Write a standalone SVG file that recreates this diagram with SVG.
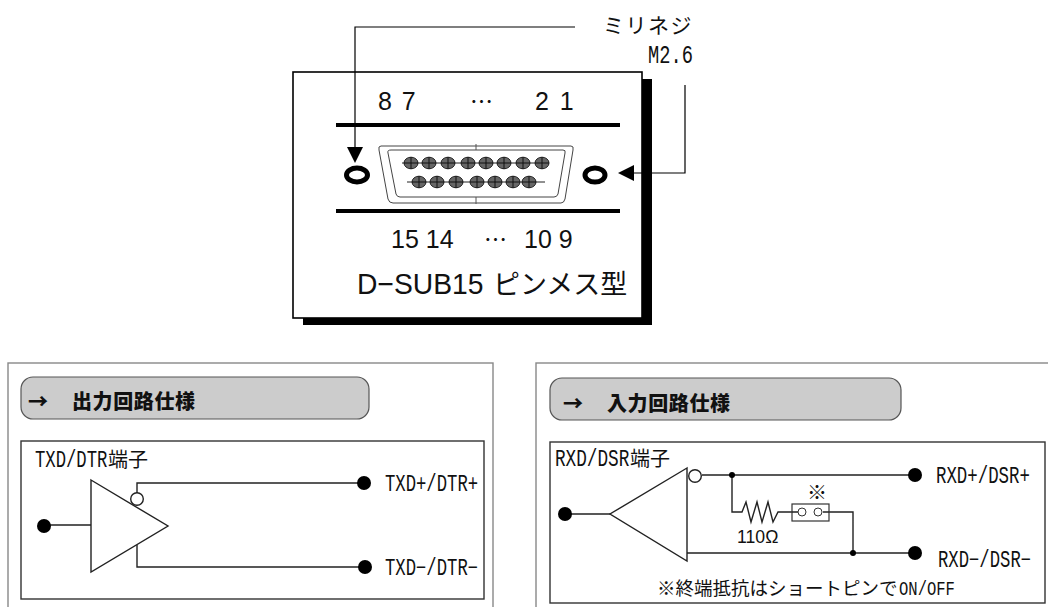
<svg xmlns="http://www.w3.org/2000/svg" width="1048" height="607" viewBox="0 0 1048 607">
<style>
text{fill:#111;font-family:"Noto Sans CJK JP","Liberation Sans",sans-serif}
.s{font-family:"Liberation Sans","Noto Sans CJK JP",sans-serif;font-size:25px}
.e{font-family:"Noto Sans CJK JP",sans-serif;font-size:23px}
.m{font-family:"Liberation Mono","Noto Sans CJK JP",monospace;font-size:23px}
.c{font-size:20px}
.h{font-size:20px;font-weight:900}
.w{fill:none;stroke:#222;stroke-width:1.4}
.d{fill:#000}
.panel{fill:#fff;stroke:#888;stroke-width:1.4}
.inner{fill:#fff;stroke:#333;stroke-width:1.4}
.pill{fill:#ccc;stroke:#555;stroke-width:1.2}
.pin{fill:#666;stroke:#222;stroke-width:1}
</style>
<defs>
<g id="pin"><ellipse class="pin" rx="7" ry="5.8"/><path d="M0-6V6M-7 0H7" stroke="#111" stroke-width="1"/></g>
</defs>
<g id="connector-panel">
<rect x="303" y="79" width="349" height="246" fill="#000"/>
<rect x="293" y="72" width="349" height="246" fill="#fff" stroke="#000" stroke-width="1.6"/>
<text class="s" x="378" y="110" word-spacing="3">8 7</text>
<text class="e" x="470" y="110">⋯</text>
<text class="s" x="535" y="110" word-spacing="4">2 1</text>
<rect x="336" y="123" width="284" height="4" fill="#000"/>
<rect x="336" y="209" width="284" height="4" fill="#000"/>
<text class="s" x="391" y="248">15 14</text>
<text class="e" x="484" y="248">⋯</text>
<text class="s" x="524" y="248">10 9</text>
<text transform="translate(357 294) scale(.975 1)" font-size="29" style="font-family:'Liberation Sans'">D−SUB15</text>
<text x="493" y="294" font-size="27">ピンメス型</text>
</g>
<g id="d-sub-connector">
<path d="M381 146Q378 146 379 150L388 199Q389 203 393 203H561Q564 203 565 199L573 150Q574 146 571 146Z" fill="#fff" stroke="#444" stroke-width="1"/>
<path d="M391 150Q387 150 388 153L396 194Q397 197 400 197H554Q557 197 558 194L565 153Q566 150 563 150Z" fill="#fff" stroke="#444" stroke-width="1"/>
<path d="M476 144V150M476 197V204" stroke="#555"/>
<path d="M402 163H548M407 182H545" stroke="#222"/>
<use href="#pin" x="411" y="163"/><use href="#pin" x="429" y="163"/><use href="#pin" x="448" y="163"/><use href="#pin" x="468" y="163"/><use href="#pin" x="486" y="163"/><use href="#pin" x="504" y="163"/><use href="#pin" x="523" y="163"/><use href="#pin" x="542" y="163"/>
<use href="#pin" x="419" y="182"/><use href="#pin" x="437" y="182"/><use href="#pin" x="456" y="182"/><use href="#pin" x="477" y="182"/><use href="#pin" x="495" y="182"/><use href="#pin" x="513" y="182"/><use href="#pin" x="529" y="182"/>
<ellipse cx="357" cy="175" rx="10.5" ry="7" fill="#fff" stroke="#000" stroke-width="5"/>
<ellipse cx="595" cy="175" rx="10" ry="7" fill="#fff" stroke="#000" stroke-width="5"/>
</g>
<g id="screw-label">
<text x="603" y="33" font-size="21" letter-spacing="1.5">ミリネジ</text>
<text class="m" transform="translate(648 63) scale(.72 1)" style="font-size:26px">M2.6</text>
</g>
<g id="connectors">
<path d="M575 27H355V148" fill="none" stroke="#000" stroke-width="1.2"/>
<path d="M347 147H363L355 163Z" fill="#000"/>
<path d="M685 85V173H630" fill="none" stroke="#000" stroke-width="1.2"/>
<path d="M618 173L634 165V181Z" fill="#000"/>
</g>
<g id="output-panel">
<rect class="panel" x="8" y="363" width="485" height="260"/>
<rect class="pill" x="21" y="377" width="348" height="42" rx="12"/>
<text class="h" x="28" y="409">→</text>
<text class="h" x="72" y="409" letter-spacing="0.6">出力回路仕様</text>
<rect class="inner" x="21" y="441" width="463" height="158"/>
<text class="m" transform="translate(35 467) scale(.75 1)">TXD/DTR</text>
<text class="c" x="108" y="467">端子</text>
<path class="w" d="M91 480L168 526L91 572Z"/>
<circle cx="137" cy="499" r="6.3" fill="#fff" stroke="#222" stroke-width="1.4"/>
<path class="w" d="M137 493V483H364M137 545V567H364M44 525H91"/>
<circle class="d" cx="364" cy="483" r="7"/><circle class="d" cx="365" cy="567" r="7"/><circle class="d" cx="44" cy="526" r="7"/>
<text class="m" transform="translate(385 491) scale(.75 1)">TXD+/DTR+</text>
<text class="m" transform="translate(385 575) scale(.75 1)">TXD−/DTR−</text>
</g>
<g id="input-panel">
<rect class="panel" x="536" y="363" width="530" height="260"/>
<rect class="pill" x="550" y="378" width="351" height="42" rx="12"/>
<text class="h" x="563" y="411">→</text>
<text class="h" x="607" y="411" letter-spacing="0.6">入力回路仕様</text>
<rect class="inner" x="550" y="442" width="495" height="161"/>
<text class="m" transform="translate(555 466) scale(.77 1)">RXD/DSR</text>
<text class="c" x="630" y="466">端子</text>
<path class="w" d="M687 468L610 514L687 561Z"/>
<circle cx="695" cy="476" r="6.3" fill="#fff" stroke="#222" stroke-width="1.4"/>
<path class="w" d="M702 475H915M732 475V512H742L746 502L751 522L757 502L762 522L768 502L773 522L778 512H792M823 512H853V553M687 553H915M565 514H610"/>
<rect x="792" y="504" width="37" height="17" fill="#fff" stroke="#333" stroke-width="1.2"/>
<path class="w" d="M792 512H798M823 512H829"/>
<circle cx="802" cy="512" r="4" fill="#fff" stroke="#333"/><circle cx="818" cy="512" r="4" fill="#fff" stroke="#333"/>
<circle class="d" cx="732" cy="475" r="3"/><circle class="d" cx="853" cy="553" r="3"/>
<circle class="d" cx="915" cy="475" r="7"/><circle class="d" cx="915" cy="553" r="7"/><circle class="d" cx="565" cy="514" r="7"/>
<text x="807" y="500" font-size="20">※</text>
<text transform="translate(737 543) scale(.93 1)" font-size="19" style="font-family:'Liberation Sans'">110Ω</text>
<text class="m" transform="translate(936 483) scale(.757 1)">RXD+/DSR+</text>
<text class="m" transform="translate(938 567) scale(.75 1)">RXD−/DSR−</text>
<text x="657" y="595" font-size="18.5">※終端抵抗はショートピンで</text>
<text class="m" transform="translate(899 595) scale(.74 1)" style="font-size:21px">ON/OFF</text>
</g>
</svg>
